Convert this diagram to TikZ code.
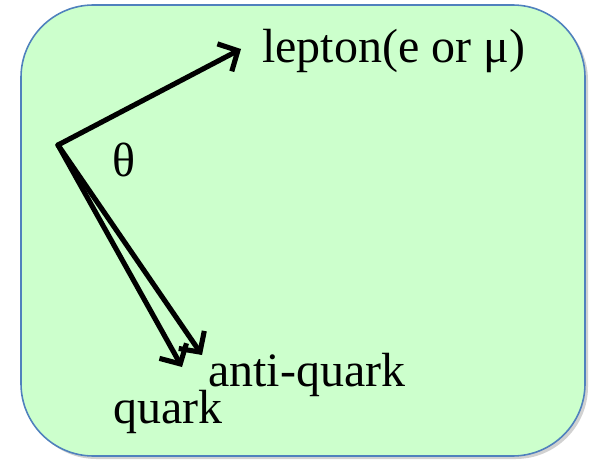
\documentclass[tikz,border=0pt]{standalone}
\usepackage{fontspec}
\setmainfont{Liberation Serif}
\usetikzlibrary{arrows.meta}

\definecolor{boxgreen}{RGB}{204,255,204}
\definecolor{boxblue}{RGB}{79,129,189}

\begin{document}
\begin{tikzpicture}[x=0.02cm,y=-0.02cm,
  momentum/.style={-{Straight Barb[length=0.3cm,width=0.62cm]}, line width=2.9pt, line cap=round, line join=round},
  lbl/.style={anchor=base west, inner sep=0pt, font=\fontsize{27.3}{32}\selectfont}]
\useasboundingbox (0,0) rectangle (590,459);
% event box
\fill[black!18, rounded corners=1.45cm] (24,8) rectangle (588,459);
\draw[fill=boxgreen, draw=boxblue, line width=0.9pt, rounded corners=1.45cm] (21,5) rectangle (585,456);
% vertex and momentum directions
\coordinate (vtx) at (58,145);
\coordinate (lep) at (241,49);
\coordinate (aq) at (202,355);
\coordinate (q) at (182,367);
\draw[momentum] (vtx) -- (lep);
\draw[momentum] (vtx) -- (aq);
\draw[momentum] (vtx) -- (q);
% labels
\node[lbl] (leplbl) at (262,63) {lepton(e or μ)};
\node[lbl] (theta) at (112,176) {θ};
\node[lbl] (aqlbl) at (208,386) {anti-quark};
\node[lbl] (qlbl) at (113,423) {quark};
\end{tikzpicture}
\end{document}
